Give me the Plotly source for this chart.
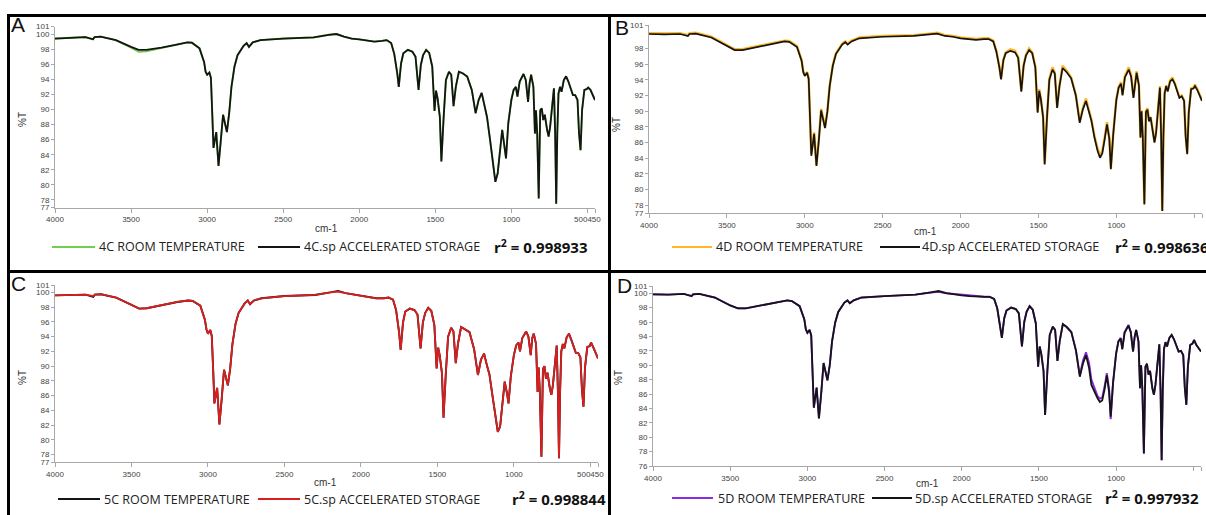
import plotly.graph_objects as go

W, H = 1206, 515

# ---- data: wavenumbers (cm-1) ----
WN = [4000, 3900, 3800, 3750, 3740, 3700, 3600, 3500, 3450, 3400,
      3300, 3200, 3130, 3100, 3050, 3020, 3010, 3000, 2985, 2975,
      2965, 2958, 2940, 2925, 2910, 2895, 2870, 2855, 2840, 2820,
      2800, 2760, 2740, 2725, 2700, 2650, 2500, 2300, 2200, 2150,
      2100, 2050, 2000, 1950, 1900, 1850, 1820, 1790, 1770, 1750,
      1740, 1725, 1710, 1680, 1650, 1630, 1610, 1595, 1580, 1560,
      1540, 1520, 1510, 1505, 1495, 1485, 1470, 1460, 1445, 1430,
      1410, 1395, 1380, 1365, 1345, 1320, 1290, 1260, 1235, 1215,
      1195, 1175, 1160, 1140, 1120, 1105, 1090, 1075, 1060, 1045,
      1035, 1020, 1000, 985, 970, 960, 945, 920, 905, 890,
      880, 870, 855, 845, 838, 830, 820, 810, 800, 790,
      780, 765, 755, 745, 730, 720, 712, 705, 698, 690,
      680, 670, 655, 640, 625, 610, 595, 580, 565, 555,
      545, 535, 520, 505, 495, 480, 465, 450]

# ---- panel A: 4C ----
A_ROOM = [99.4, 99.45, 99.6, 99.3, 99.6, 99.65, 99.2, 98.2, 97.65, 97.7,
          98.1, 98.6, 98.9, 98.85, 98.1, 96.3, 95.0, 94.6, 94.9, 94.2,
          89.0, 84.9, 87.0, 82.5, 85.9, 89.3, 87.0, 89.5, 93.0, 95.7,
          97.2, 98.45, 98.8, 98.3, 98.9, 99.2, 99.4, 99.55, 99.9, 100.0,
          99.65, 99.4, 99.3, 99.1, 99.0, 99.1, 99.2, 98.8, 97.4, 94.8,
          93.0, 96.1, 97.45, 97.9, 97.65, 97.0, 92.6, 95.9, 97.2, 97.9,
          97.5, 95.7, 91.0, 89.8, 92.5, 91.5, 89.0, 83.1, 89.0, 93.9,
          95.0, 94.6, 90.45, 93.0, 95.0, 94.8, 94.35, 92.6, 89.5, 91.25,
          92.2, 90.4, 89.0, 86.0, 82.4, 80.4, 81.5, 84.6, 87.3, 85.05,
          83.5, 88.2, 91.25, 92.6, 93.0, 91.7, 93.7, 94.7, 93.9, 91.0,
          93.5, 94.6, 93.0, 86.8, 89.9, 86.8, 78.2, 89.9, 90.15, 88.6,
          89.3, 87.3, 86.4, 87.7, 91.25, 92.8, 86.8, 77.5, 86.8, 92.1,
          93.0, 92.35, 93.9, 94.4, 93.7, 92.8, 91.9, 91.9, 91.25, 86.85,
          84.6, 89.9, 92.6, 92.7, 92.9, 92.6, 91.9, 91.25]
A_ACC = [99.4, 99.45, 99.6, 99.3, 99.6, 99.65, 99.2, 98.3, 97.9, 97.9,
         98.2, 98.6, 98.9, 98.85, 98.1, 96.3, 95.0, 94.6, 94.9, 94.2,
         89.0, 84.9, 87.0, 82.5, 85.9, 89.3, 87.0, 89.5, 93.0, 95.7,
         97.2, 98.45, 98.8, 98.3, 98.9, 99.2, 99.4, 99.55, 99.9, 100.0,
         99.65, 99.4, 99.3, 99.1, 99.0, 99.1, 99.2, 98.8, 97.4, 94.8,
         93.0, 96.1, 97.45, 97.9, 97.65, 97.0, 92.6, 95.9, 97.2, 97.9,
         97.5, 95.7, 91.0, 89.8, 92.5, 91.5, 89.0, 83.1, 89.0, 93.9,
         95.0, 94.6, 90.45, 93.0, 95.0, 94.8, 94.35, 92.6, 89.5, 91.25,
         92.2, 90.4, 89.0, 86.0, 82.4, 80.4, 81.5, 84.6, 87.3, 85.05,
         83.5, 88.2, 91.25, 92.6, 93.0, 91.7, 93.7, 94.7, 93.9, 91.0,
         93.5, 94.6, 93.0, 86.8, 89.9, 86.8, 78.2, 89.9, 90.15, 88.6,
         89.3, 87.3, 86.4, 87.7, 91.25, 92.8, 86.8, 77.5, 86.8, 92.1,
         93.0, 92.35, 93.9, 94.4, 93.7, 92.8, 91.9, 91.9, 91.25, 86.85,
         84.6, 89.9, 92.6, 92.7, 92.9, 92.6, 91.9, 91.25]

# ---- panel B: 4D ----
B_ROOM = [99.95, 99.9, 99.95, 99.7, 99.95, 100.0, 99.5, 98.5, 97.9, 97.9,
          98.3, 98.7, 99.0, 98.95, 98.3, 96.5, 95.1, 94.6, 95.0, 94.2,
          88.6, 84.5, 87.3, 83.1, 86.3, 90.3, 87.95, 90.0, 93.3, 95.9,
          97.4, 98.6, 98.9, 98.6, 99.0, 99.4, 99.6, 99.7, 99.9, 100.0,
          99.7, 99.6, 99.4, 99.3, 99.2, 99.3, 99.3, 99.0, 97.7, 95.6,
          94.2, 96.6, 97.5, 97.9, 97.7, 96.9, 92.6, 95.9, 97.2, 98.0,
          97.5, 95.7, 91.1, 89.9, 92.8, 91.7, 89.3, 83.3, 89.3, 94.1,
          95.6, 94.9, 90.5, 93.3, 95.8, 95.2, 94.3, 92.1, 88.7, 90.4,
          91.6, 90.0, 88.9, 86.8, 85.2, 84.4, 84.9, 86.6, 88.6, 86.6,
          82.7, 87.1, 91.5, 93.1, 93.7, 92.1, 94.5, 95.6, 94.6, 91.8,
          93.9, 95.1, 93.4, 86.7, 90.1, 86.7, 78.2, 90.0, 90.4, 88.8,
          89.3, 87.1, 86.1, 87.3, 91.4, 93.2, 86.6, 77.3, 86.6, 92.3,
          93.3, 92.6, 93.9, 94.3, 93.6, 92.7, 91.8, 92.0, 91.4, 86.9,
          84.6, 89.9, 92.9, 93.0, 93.4, 92.8, 92.1, 91.4]
B_ACC = [99.85, 99.8, 99.85, 99.6, 99.85, 99.9, 99.4, 98.4, 97.8, 97.8,
         98.2, 98.6, 98.9, 98.85, 98.2, 96.4, 95.0, 94.5, 94.9, 94.1,
         88.5, 84.3, 87.1, 83.0, 86.2, 90.1, 87.85, 89.9, 93.2, 95.8,
         97.3, 98.5, 98.8, 98.5, 98.9, 99.3, 99.5, 99.6, 99.8, 99.9,
         99.6, 99.5, 99.3, 99.2, 99.1, 99.2, 99.2, 98.9, 97.6, 95.5,
         94.05, 96.5, 97.4, 97.7, 97.5, 96.8, 92.5, 95.8, 97.1, 97.8,
         97.4, 95.6, 91.0, 89.8, 92.6, 91.6, 89.2, 83.2, 89.2, 94.0,
         95.3, 94.8, 90.4, 93.2, 95.5, 95.0, 94.2, 92.0, 88.5, 90.2,
         91.3, 89.9, 88.8, 86.6, 84.9, 84.05, 84.6, 86.4, 88.3, 86.5,
         82.6, 87.0, 91.4, 93.0, 93.5, 92.0, 94.3, 95.3, 94.4, 91.7,
         93.8, 94.9, 93.3, 86.6, 90.0, 86.6, 78.1, 89.9, 90.2, 88.7,
         89.2, 87.0, 86.0, 87.2, 91.3, 93.0, 86.5, 77.25, 86.5, 92.2,
         93.2, 92.5, 93.8, 94.05, 93.5, 92.6, 91.7, 91.9, 91.3, 86.8,
         84.5, 89.8, 92.8, 92.9, 93.2, 92.7, 92.0, 91.3]

# ---- panel C: 5C ----
C_ROOM = [99.6, 99.6, 99.7, 99.4, 99.7, 99.75, 99.3, 98.3, 97.8, 97.85,
          98.3, 98.7, 98.9, 98.85, 98.2, 96.3, 95.0, 94.4, 94.9, 94.1,
          89.0, 84.95, 87.05, 82.1, 85.6, 89.5, 87.4, 89.6, 93.0, 95.7,
          97.2, 98.5, 98.9, 98.4, 98.9, 99.2, 99.5, 99.65, 100.0, 100.2,
          99.9, 99.7, 99.5, 99.3, 99.2, 99.2, 99.3, 99.0, 97.6, 94.5,
          92.2, 95.9, 97.4, 97.8, 97.6, 97.0, 92.4, 95.9, 97.2, 97.9,
          97.5, 95.6, 90.8, 89.7, 92.5, 91.5, 89.0, 83.0, 89.0, 94.0,
          95.2, 94.7, 90.4, 93.1, 95.3, 95.0, 94.6, 92.3, 88.8, 90.9,
          91.7, 90.0, 88.9, 86.0, 82.8, 81.1, 81.8, 84.8, 87.9, 86.3,
          84.95, 88.6, 91.5, 92.8, 93.2, 92.0, 93.8, 94.7, 94.0, 91.5,
          93.8, 94.4, 93.0, 86.5, 89.8, 86.5, 77.7, 89.6, 90.0, 88.3,
          89.1, 87.0, 86.1, 87.4, 91.0, 92.8, 86.5, 77.5, 86.5, 92.0,
          93.0, 92.4, 93.9, 94.4, 93.6, 92.7, 91.8, 91.8, 91.2, 86.8,
          84.5, 89.8, 92.6, 92.7, 93.2, 92.5, 91.8, 91.05]
C_ACC = [99.6, 99.6, 99.7, 99.5, 99.7, 99.75, 99.3, 98.3, 97.8, 97.85,
         98.3, 98.7, 98.9, 98.85, 98.2, 96.3, 95.0, 94.4, 94.9, 94.1,
         89.0, 84.95, 87.05, 82.1, 85.6, 89.5, 87.4, 89.6, 93.0, 95.7,
         97.2, 98.5, 98.9, 98.4, 98.9, 99.2, 99.5, 99.65, 100.0, 100.1,
         99.9, 99.7, 99.5, 99.3, 99.2, 99.2, 99.3, 99.0, 97.6, 94.5,
         92.2, 95.9, 97.4, 97.8, 97.6, 97.0, 92.4, 95.9, 97.2, 97.9,
         97.5, 95.6, 90.8, 89.7, 92.5, 91.5, 89.0, 83.0, 89.0, 94.0,
         95.2, 94.7, 90.4, 93.1, 95.3, 95.0, 94.6, 92.3, 88.8, 90.9,
         91.7, 90.0, 88.9, 86.0, 82.8, 81.1, 81.8, 84.8, 87.9, 86.3,
         84.95, 88.6, 91.5, 92.8, 93.2, 92.0, 93.8, 94.7, 94.0, 91.5,
         93.8, 94.4, 93.0, 86.5, 89.8, 86.5, 77.7, 89.6, 90.0, 88.3,
         89.1, 87.0, 86.1, 87.4, 91.0, 92.8, 86.5, 77.5, 86.5, 92.0,
         93.0, 92.4, 93.9, 94.4, 93.6, 92.7, 91.8, 91.8, 91.2, 86.8,
         84.5, 89.8, 92.6, 92.7, 93.2, 92.5, 91.8, 91.05]

# ---- panel D: 5D ----
D_ROOM = [99.85, 99.8, 99.9, 99.6, 99.85, 99.9, 99.4, 98.3, 97.9, 97.9,
          98.3, 98.7, 99.0, 98.9, 98.2, 96.4, 95.0, 94.5, 94.9, 94.1,
          88.6, 84.1, 86.9, 82.6, 86.2, 90.3, 87.9, 90.0, 93.3, 95.9,
          97.4, 98.7, 99.0, 98.6, 99.0, 99.4, 99.6, 99.8, 100.1, 100.2,
          100.0, 99.9, 99.8, 99.7, 99.5, 99.5, 99.5, 99.2, 97.9, 95.5,
          93.8, 96.5, 97.6, 98.0, 97.8, 97.2, 92.6, 96.0, 97.4, 98.2,
          97.7, 95.8, 91.0, 89.8, 92.6, 91.6, 89.2, 83.1, 89.3, 94.2,
          95.35, 94.9, 90.6, 93.4, 95.7, 95.3, 94.6, 92.1, 88.6, 90.6,
          91.8, 90.3, 88.0, 86.7, 85.7, 85.35, 85.5, 87.0, 88.9, 86.6,
          82.5, 87.5, 91.6, 93.3, 93.8, 92.3, 94.6, 95.6, 94.6, 91.9,
          93.9, 94.9, 93.3, 86.8, 90.0, 86.8, 77.75, 89.8, 90.2, 88.7,
          89.2, 86.8, 85.9, 87.3, 91.2, 92.9, 86.4, 76.8, 86.4, 92.2,
          93.2, 92.6, 93.8, 94.2, 93.6, 92.8, 91.9, 92.0, 91.4, 86.9,
          84.5, 89.8, 92.8, 93.0, 93.5, 92.8, 92.3, 91.9]
D_ACC = [99.85, 99.8, 99.9, 99.6, 99.85, 99.9, 99.4, 98.3, 97.9, 97.9,
         98.3, 98.7, 99.0, 98.9, 98.2, 96.4, 95.0, 94.5, 94.9, 94.1,
         88.6, 84.1, 86.9, 82.6, 86.2, 90.3, 87.9, 90.0, 93.3, 95.9,
         97.4, 98.7, 99.0, 98.6, 99.0, 99.4, 99.6, 99.8, 100.1, 100.3,
         100.0, 99.8, 99.7, 99.6, 99.5, 99.5, 99.5, 99.2, 97.9, 95.5,
         93.8, 96.5, 97.6, 98.0, 97.8, 97.2, 92.6, 96.0, 97.4, 98.2,
         97.7, 95.8, 91.0, 89.8, 92.6, 91.6, 89.2, 83.1, 89.3, 94.2,
         95.35, 94.9, 90.6, 93.4, 95.7, 95.3, 94.6, 92.0, 88.4, 90.2,
         91.4, 89.6, 87.25, 86.3, 85.4, 84.9, 85.1, 86.6, 88.6, 86.2,
         82.85, 87.5, 91.6, 93.3, 93.7, 92.2, 94.5, 95.5, 94.6, 91.9,
         93.9, 94.9, 93.3, 86.8, 90.0, 86.8, 77.75, 89.8, 90.2, 88.7,
         89.2, 86.8, 85.9, 87.3, 91.2, 92.9, 86.4, 76.8, 86.4, 92.2,
         93.2, 92.6, 93.8, 94.2, 93.6, 92.8, 91.9, 92.0, 91.4, 86.9,
         84.5, 89.8, 92.8, 93.0, 93.5, 92.8, 92.3, 91.9]

X_TICKS = [4000, 3500, 3000, 2500, 2000, 1500, 1000, 500, 450]
X_TICKTEXT = ["4000", "3500", "3000", "2500", "2000", "1500", "1000", "500450", " "]
Y_TICKS_AC = [77, 78, 80, 82, 84, 86, 88, 90, 92, 94, 96, 98, 100, 101]
Y_TICKS_B = [77, 78, 80, 82, 84, 86, 88, 90, 92, 94, 96, 98, 101]
Y_TICKS_D = [76, 78, 80, 82, 84, 86, 88, 90, 92, 94, 96, 98, 100, 101]

LEGEND_ROOM = ["4C ROOM TEMPERATURE", "4D ROOM TEMPERATURE", "5C ROOM TEMPERATURE", "5D ROOM TEMPERATURE"]
LEGEND_ACC = ["4C.sp ACCELERATED STORAGE", "4D.sp ACCELERATED STORAGE", "5C.sp ACCELERATED STORAGE", "5D.sp ACCELERATED STORAGE"]
R2 = ["0.998933", "0.998636", "0.998844", "0.997932"]
LETTERS = ["A", "B", "C", "D"]


def xp(px):
    return px / W


def yp(py):
    return 1 - py / H


panels = [
    dict(room=A_ROOM, acc=A_ACC, croom="#6fcf4f", cacc="#141414", wroom=1.9, wacc=1.8,
         box=(55, 595, 26.5, 207.5), yr=(77, 101), yt=Y_TICKS_AC,
         letter=(18, 25), ylab=(22, 120), xlab=(326, 228),
         leg_y=247, l1=(52, 95), t1=97, l2=(258, 300), t2=302, r2x=492),
    dict(room=B_ROOM, acc=B_ACC, croom="#ffb627", cacc="#141414", wroom=2.5, wacc=1.7,
         box=(649, 1202, 25, 213), yr=(77, 101), yt=Y_TICKS_B,
         letter=(622, 27), ylab=(616, 125), xlab=(925, 231),
         leg_y=247, l1=(672, 712), t1=714, l2=(880, 920), t2=920, r2x=1113),
    dict(room=C_ROOM, acc=C_ACC, croom="#141414", cacc="#d81e1e", wroom=1.9, wacc=1.8,
         box=(55, 598, 285, 462), yr=(77, 101), yt=Y_TICKS_AC,
         letter=(18, 283), ylab=(22, 378), xlab=(325, 482),
         leg_y=499, l1=(58, 100), t1=102, l2=(258, 300), t2=302, r2x=510),
    dict(room=D_ROOM, acc=D_ACC, croom="#8a2be2", cacc="#141414", wroom=1.9, wacc=1.8,
         box=(653, 1201, 286, 466), yr=(76, 101), yt=Y_TICKS_D,
         letter=(624, 285), ylab=(618, 378), xlab=(927, 483),
         leg_y=498, l1=(672, 713), t1=716, l2=(872, 912), t2=913, r2x=1103),
]

fig = go.Figure()
annotations = []
shapes = []
axis_gray = "#a8a8a8"
tick_font = dict(family="Liberation Sans, Arial, sans-serif", size=8, color="#444444")
txt_font = "Open Sans, Noto Sans, sans-serif"

for i, p in enumerate(panels):
    n = i + 1
    xa = "x" if n == 1 else f"x{n}"
    ya = "y" if n == 1 else f"y{n}"
    fig.add_trace(go.Scatter(x=WN, y=p["room"], mode="lines", xaxis=xa, yaxis=ya,
                             line=dict(color=p["croom"], width=p["wroom"]),
                             showlegend=False, hoverinfo="skip"))
    fig.add_trace(go.Scatter(x=WN, y=p["acc"], mode="lines", xaxis=xa, yaxis=ya,
                             line=dict(color=p["cacc"], width=p["wacc"]),
                             showlegend=False, hoverinfo="skip"))
    x0, x1, yt, yb = p["box"]
    xkey = "xaxis" if n == 1 else f"xaxis{n}"
    ykey = "yaxis" if n == 1 else f"yaxis{n}"
    fig.update_layout(**{
        xkey: dict(domain=[xp(x0), xp(x1)], range=[4000, 450], anchor=ya, automargin=False,
                   showline=True, linecolor=axis_gray, linewidth=1, tickangle=0,
                   ticks="outside", ticklen=4, tickcolor=axis_gray, tickwidth=1,
                   tickvals=X_TICKS, ticktext=X_TICKTEXT, tickfont=tick_font,
                   showgrid=False, zeroline=False, fixedrange=True),
        ykey: dict(domain=[yp(yb), yp(yt)], range=list(p["yr"]), anchor=xa, automargin=False,
                   showline=True, linecolor=axis_gray, linewidth=1,
                   ticks="outside", ticklen=3, tickcolor=axis_gray, tickwidth=1,
                   tickvals=p["yt"], ticktext=[str(v) for v in p["yt"]], tickfont=tick_font,
                   showgrid=False, zeroline=False, fixedrange=True),
    })
    lx, ly = p["letter"]
    annotations.append(dict(x=xp(lx), y=yp(ly), xref="paper", yref="paper", text=LETTERS[i],
                            showarrow=False, xanchor="center", yanchor="middle",
                            font=dict(family="Liberation Sans, Arial, sans-serif", size=21, color="#111")))
    ax_, ay_ = p["ylab"]
    annotations.append(dict(x=xp(ax_), y=yp(ay_), xref="paper", yref="paper", text="%T", textangle=-90,
                            showarrow=False, xanchor="center", yanchor="middle",
                            font=dict(family="Liberation Sans, Arial, sans-serif", size=10, color="#333")))
    bx, by = p["xlab"]
    annotations.append(dict(x=xp(bx), y=yp(by), xref="paper", yref="paper", text="cm-1",
                            showarrow=False, xanchor="center", yanchor="middle",
                            font=dict(family="Liberation Sans, Arial, sans-serif", size=10, color="#333")))
    ly_ = p["leg_y"]
    shapes.append(dict(type="line", xref="paper", yref="paper", x0=xp(p["l1"][0]), x1=xp(p["l1"][1]),
                       y0=yp(ly_), y1=yp(ly_), line=dict(color=p["croom"], width=2)))
    shapes.append(dict(type="line", xref="paper", yref="paper", x0=xp(p["l2"][0]), x1=xp(p["l2"][1]),
                       y0=yp(ly_), y1=yp(ly_), line=dict(color=p["cacc"], width=2)))
    annotations.append(dict(x=xp(p["t1"]), y=yp(ly_), xref="paper", yref="paper", text=LEGEND_ROOM[i],
                            showarrow=False, xanchor="left", yanchor="middle",
                            font=dict(family=txt_font, size=12.5, color="#222")))
    annotations.append(dict(x=xp(p["t2"]), y=yp(ly_), xref="paper", yref="paper", text=LEGEND_ACC[i],
                            showarrow=False, xanchor="left", yanchor="middle",
                            font=dict(family=txt_font, size=12.5, color="#222")))
    annotations.append(dict(x=xp(p["r2x"]), y=yp(ly_ - 1), xref="paper", yref="paper",
                            text=f"<b>r<sup>2</sup> = {R2[i]}</b>",
                            showarrow=False, xanchor="left", yanchor="middle",
                            font=dict(family=txt_font, size=15, color="#111")))

frame = dict(color="black", width=3)
shapes += [
    dict(type="line", xref="paper", yref="paper", x0=xp(7), x1=1, y0=yp(15.5), y1=yp(15.5), line=frame),
    dict(type="line", xref="paper", yref="paper", x0=xp(8.5), x1=xp(8.5), y0=yp(14), y1=0, line=frame),
    dict(type="line", xref="paper", yref="paper", x0=xp(609.5), x1=xp(609.5), y0=yp(14), y1=0, line=frame),
    dict(type="line", xref="paper", yref="paper", x0=xp(7), x1=1, y0=yp(271.5), y1=yp(271.5), line=frame),
]

fig.update_layout(width=W, height=H, margin=dict(l=0, r=0, t=0, b=0, pad=0), autosize=False,
                  paper_bgcolor="white", plot_bgcolor="white",
                  annotations=annotations, shapes=shapes, showlegend=False)

fig.write_html("out.html", config={"displayModeBar": False},
               post_script="document.body.style.margin='0px';document.body.style.overflow='hidden';")
